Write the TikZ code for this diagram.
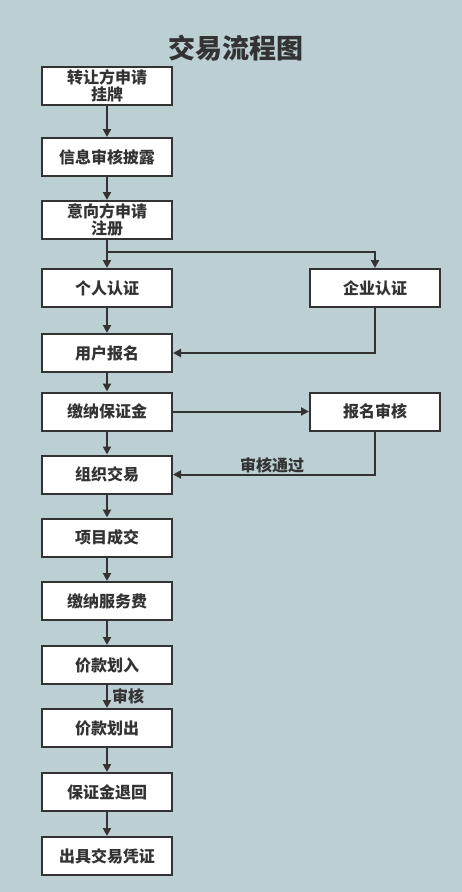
\documentclass[tikz,border=0pt]{standalone}
\usepackage{fontspec}
\setmainfont{Noto Sans CJK SC}
\usetikzlibrary{arrows.meta}
\definecolor{bgc}{HTML}{BCCFD2}
\definecolor{ink}{HTML}{333333}
\tikzset{
  box/.style={draw=ink, line width=2pt, fill=white, minimum width=130pt, minimum height=38pt,
    inner sep=0pt, align=center, text=ink, font=\fontsize{16}{17}\selectfont\bfseries},
  conn/.style={draw=ink, line width=2pt, -{Triangle[length=8pt,width=8pt]}},
  lbl/.style={text=ink, font=\fontsize{16}{17}\selectfont\bfseries, inner sep=0pt}
}
\begin{document}
\begin{tikzpicture}[x=1pt,y=-1pt]
\fill[bgc] (0,0) rectangle (462,892);
\useasboundingbox (0,0) rectangle (462,892);
\node[text=ink, font=\fontsize{27}{28}\selectfont\bfseries] (title) at (236,48) {交易流程图};
\node[box] (b1) at (107,86) {转让方申请\\挂牌};
\node[box] (b2) at (107,157) {信息审核披露};
\node[box] (b3) at (107,220) {意向方申请\\注册};
\node[box] (b4) at (107,288) {个人认证};
\node[box] (r1) at (375,288) {企业认证};
\node[box] (b5) at (107,353) {用户报名};
\node[box] (b6) at (107,411.5) {缴纳保证金};
\node[box] (r2) at (375,411.5) {报名审核};
\node[box] (b7) at (107,474.5) {组织交易};
\node[box] (b8) at (107,537.5) {项目成交};
\node[box] (b9) at (107,601) {缴纳服务费};
\node[box] (b10) at (107,665) {价款划入};
\node[box] (b11) at (107,728) {价款划出};
\node[box] (b12) at (107,792) {保证金退回};
\node[box] (b13) at (107,856) {出具交易凭证};
\coordinate (j1) at (107,252);
\draw[conn] (b1) -- (b2);
\draw[conn] (b2) -- (b3);
\draw[conn] (b3) -- (b4);
\draw[conn] (j1) -| (r1);
\draw[conn] (b4) -- (b5);
\draw[conn] (r1) |- (b5);
\draw[conn] (b5) -- (b6);
\draw[conn] (b6) -- (r2);
\draw[conn] (b6) -- (b7);
\draw[conn] (r2) |- (b7);
\draw[conn] (b7) -- (b8);
\draw[conn] (b8) -- (b9);
\draw[conn] (b9) -- (b10);
\draw[conn] (b10) -- (b11);
\draw[conn] (b11) -- (b12);
\draw[conn] (b12) -- (b13);
\node[lbl] (l1) at (272,465) {审核通过};
\node[lbl] (l2) at (128,696) {审核};
\end{tikzpicture}
\end{document}
